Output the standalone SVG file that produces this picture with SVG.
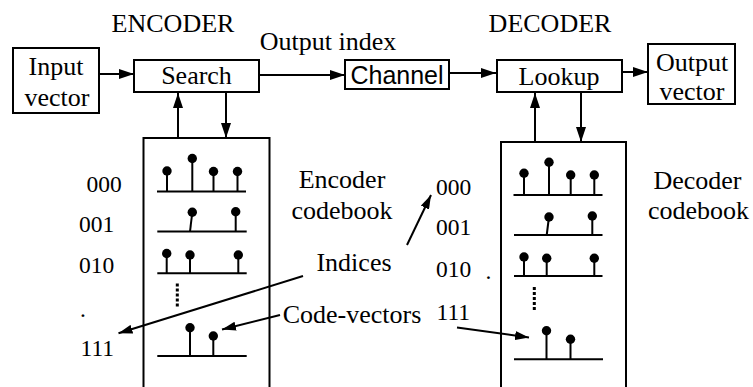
<svg xmlns="http://www.w3.org/2000/svg" width="753" height="387" viewBox="0 0 753 387">
<style>
text{font-family:"Liberation Serif","Times New Roman",serif;font-size:26px;fill:#000}
.sans{font-family:"Liberation Sans",Arial,sans-serif;font-size:25px}
.num{font-size:23.5px}
.mid{text-anchor:middle}
.box{fill:#fff;stroke:#000;stroke-width:2}
.ln{stroke:#000;stroke-width:2;fill:none}
.stem{stroke:#000;stroke-width:2}
.dot{fill:#000}
.dots{stroke:#000;stroke-width:3;stroke-dasharray:3 2}
</style>
<defs>
<marker id="ah" markerUnits="userSpaceOnUse" markerWidth="15" markerHeight="10" refX="15" refY="5" orient="auto">
<path d="M0,0 L15,5 L0,10 z" fill="#000"/>
</marker>
<marker id="ahs" markerUnits="userSpaceOnUse" markerWidth="14" markerHeight="9" refX="14" refY="4.5" orient="auto">
<path d="M0,0 L14,4.5 L0,9 z" fill="#000"/>
</marker>
</defs>
<rect width="753" height="387" fill="#fff"/>

<g id="titles">
<text class="mid" x="173" y="32">ENCODER</text>
<text class="mid" x="550" y="32">DECODER</text>
<text class="mid" x="328" y="50">Output index</text>
</g>

<g id="input">
<rect class="box" x="13" y="48" width="86" height="65"/>
<text class="mid" x="56" y="75">Input</text>
<text class="mid" x="57" y="106">vector</text>
</g>

<g id="search">
<rect class="box" x="134" y="60" width="125" height="32"/>
<text class="mid" x="196.5" y="84">Search</text>
</g>

<g id="channel">
<rect class="box" x="345" y="60" width="104" height="29"/>
<text class="sans mid" x="397" y="84">Channel</text>
</g>

<g id="lookup">
<rect class="box" x="497" y="60" width="125" height="32"/>
<text class="mid" x="559" y="85">Lookup</text>
</g>

<g id="output">
<rect class="box" x="648" y="44" width="87" height="60"/>
<text class="mid" x="692" y="71">Output</text>
<text class="mid" x="692" y="100">vector</text>
</g>

<g id="encoder-codebook">
<path class="ln" d="M143.5,390 V138 H269.5 V390"/>
<line class="stem" x1="157" y1="191.5" x2="246" y2="191.5"/>
<line class="stem" x1="167" y1="191.5" x2="167" y2="171"/><circle class="dot" cx="167" cy="171" r="4.7"/>
<line class="stem" x1="192.3" y1="191.5" x2="192.3" y2="158.5"/><circle class="dot" cx="192.3" cy="158.5" r="4.7"/>
<line class="stem" x1="213.5" y1="191.5" x2="213.5" y2="171.5"/><circle class="dot" cx="213.5" cy="171.5" r="4.7"/>
<line class="stem" x1="237.5" y1="191.5" x2="237.5" y2="171.5"/><circle class="dot" cx="237.5" cy="171.5" r="4.7"/>

<line class="stem" x1="157.3" y1="231.5" x2="246.7" y2="231.5"/>
<line class="stem" x1="190" y1="231.5" x2="192.3" y2="212.3"/><circle class="dot" cx="192.3" cy="212.3" r="4.7"/>
<line class="stem" x1="235.7" y1="231.5" x2="235.7" y2="211.7"/><circle class="dot" cx="235.7" cy="211.7" r="4.7"/>

<line class="stem" x1="157.3" y1="273.3" x2="246.7" y2="273.3"/>
<line class="stem" x1="166.7" y1="273.3" x2="166.7" y2="253.5"/><circle class="dot" cx="166.7" cy="253.5" r="4.7"/>
<line class="stem" x1="190" y1="273.3" x2="190" y2="255"/><circle class="dot" cx="190" cy="255" r="4.7"/>
<line class="stem" x1="238.3" y1="273.3" x2="238.3" y2="255"/><circle class="dot" cx="238.3" cy="255" r="4.7"/>

<line class="dots" x1="177.3" y1="283.5" x2="177.3" y2="307"/>

<line class="stem" x1="157.3" y1="356" x2="246.7" y2="356"/>
<line class="stem" x1="190" y1="356" x2="190" y2="327.8"/><circle class="dot" cx="190" cy="327.8" r="4.7"/>
<line class="stem" x1="213.3" y1="356" x2="213.3" y2="336"/><circle class="dot" cx="213.3" cy="336" r="4.7"/>

<text class="num" x="86.5" y="191.7">000</text>
<text class="num" x="79" y="231.7">001</text>
<text class="num" x="79" y="273.3">010</text>
<text class="num" x="80" y="316.5">.</text>
<text class="num" x="80.5" y="356">111</text>
<text class="mid" x="342" y="187.5">Encoder</text>
<text class="mid" x="342" y="218.5">codebook</text>
</g>

<g id="decoder-codebook">
<path class="ln" d="M501,390 V142 H626 V390"/>
<line class="stem" x1="513.5" y1="195" x2="602.5" y2="195"/>
<line class="stem" x1="524" y1="195" x2="524" y2="173.3"/><circle class="dot" cx="524" cy="173.3" r="4.7"/>
<line class="stem" x1="549" y1="195" x2="549" y2="162.3"/><circle class="dot" cx="549" cy="162.3" r="4.7"/>
<line class="stem" x1="570.7" y1="195" x2="570.7" y2="175"/><circle class="dot" cx="570.7" cy="175" r="4.7"/>
<line class="stem" x1="594.3" y1="195" x2="594.3" y2="175"/><circle class="dot" cx="594.3" cy="175" r="4.7"/>

<line class="stem" x1="514" y1="235" x2="602.5" y2="235"/>
<line class="stem" x1="546.7" y1="235" x2="549" y2="217"/><circle class="dot" cx="549" cy="217" r="4.7"/>
<line class="stem" x1="592.3" y1="235" x2="592.3" y2="216"/><circle class="dot" cx="592.3" cy="216" r="4.7"/>

<line class="stem" x1="514" y1="276" x2="602.5" y2="276"/>
<line class="stem" x1="524" y1="276" x2="524" y2="257"/><circle class="dot" cx="524" cy="257" r="4.7"/>
<line class="stem" x1="546.7" y1="276" x2="546.7" y2="258.3"/><circle class="dot" cx="546.7" cy="258.3" r="4.7"/>
<line class="stem" x1="594.3" y1="276" x2="594.3" y2="258.3"/><circle class="dot" cx="594.3" cy="258.3" r="4.7"/>

<line class="dots" x1="534.3" y1="287" x2="534.3" y2="311"/>

<line class="stem" x1="514" y1="359.3" x2="603" y2="359.3"/>
<line class="stem" x1="546.5" y1="359.3" x2="546.5" y2="330.7"/><circle class="dot" cx="546.5" cy="330.7" r="4.7"/>
<line class="stem" x1="570.5" y1="359.3" x2="570.5" y2="339.3"/><circle class="dot" cx="570.5" cy="339.3" r="4.7"/>

<text class="num" x="436" y="195">000</text>
<text class="num" x="436" y="235">001</text>
<text class="num" x="436" y="277">010</text>
<text class="num" x="485.5" y="278.5">.</text>
<text class="num" x="436.5" y="319.5">111</text>
<text class="mid" x="697.5" y="188.5">Decoder</text>
<text class="mid" x="698.5" y="218.5">codebook</text>
</g>

<g id="annotations">
<text class="mid" x="354" y="271">Indices</text>
<text class="mid" x="352" y="323">Code-vectors</text>
</g>

<g id="connectors">
<line class="ln" x1="99" y1="74" x2="134" y2="74" marker-end="url(#ah)"/>
<line class="ln" x1="259" y1="75" x2="345" y2="75" marker-end="url(#ah)"/>
<line class="ln" x1="449" y1="73" x2="496" y2="73" marker-end="url(#ah)"/>
<line class="ln" x1="622" y1="72" x2="648" y2="72" marker-end="url(#ah)"/>
<line class="ln" x1="178" y1="138" x2="178" y2="93" marker-end="url(#ah)"/>
<line class="ln" x1="226" y1="92" x2="226" y2="138" marker-end="url(#ah)"/>
<line class="ln" x1="535" y1="142" x2="535" y2="93" marker-end="url(#ah)"/>
<line class="ln" x1="581" y1="92" x2="581" y2="142" marker-end="url(#ah)"/>
<line class="ln" x1="303" y1="276" x2="118.5" y2="333.3" marker-end="url(#ahs)"/>
<line class="ln" x1="407" y1="245" x2="431" y2="195" marker-end="url(#ahs)"/>
<line class="ln" x1="280" y1="315" x2="222" y2="329.5" marker-end="url(#ahs)"/>
<line class="ln" x1="457" y1="327.5" x2="529" y2="337.5" marker-end="url(#ahs)"/>
</g>
</svg>
